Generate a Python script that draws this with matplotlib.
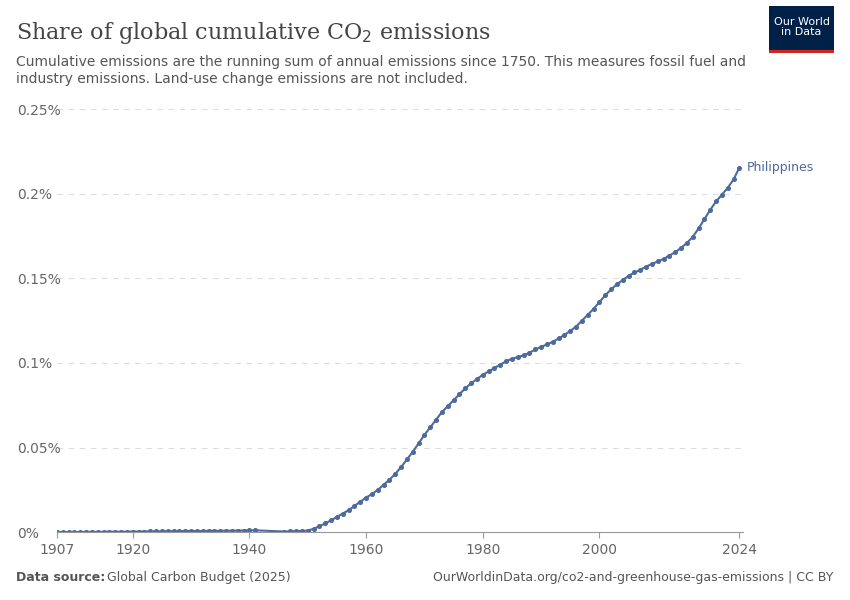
import matplotlib.pyplot as plt
import numpy as np

years_a = list(range(1907, 1942))
share_a = [0.0000, 0.0001, 0.0001, 0.0001, 0.0001, 0.0002, 0.0002, 0.0002, 0.0002, 0.0003,
           0.0003, 0.0003, 0.0003, 0.0004, 0.0004, 0.0004, 0.0005, 0.0005, 0.0005, 0.0006,
           0.0006, 0.0006, 0.0007, 0.0007, 0.0007, 0.0007, 0.0008, 0.0008, 0.0008, 0.0009,
           0.0009, 0.0010, 0.0010, 0.0011, 0.0011]
years_b = list(range(1946, 2025))
share_b = [0.0004, 0.0005, 0.0006, 0.0007, 0.0010, 0.0020, 0.0035, 0.0052, 0.0070, 0.0090,
           0.0110, 0.0130, 0.0155, 0.0180, 0.0205, 0.0225, 0.0250, 0.0280, 0.0310, 0.0345,
           0.0385, 0.0430, 0.0475, 0.0525, 0.0575, 0.0620, 0.0665, 0.0710, 0.0745, 0.0780,
           0.0815, 0.0850, 0.0880, 0.0905, 0.0930, 0.0950, 0.0970, 0.0990, 0.1010, 0.1025,
           0.1035, 0.1045, 0.1060, 0.1080, 0.1095, 0.1110, 0.1125, 0.1145, 0.1165, 0.1190,
           0.1215, 0.1250, 0.1285, 0.1320, 0.1360, 0.1400, 0.1435, 0.1465, 0.1490, 0.1515,
           0.1535, 0.1550, 0.1570, 0.1585, 0.1600, 0.1615, 0.1635, 0.1655, 0.1680, 0.1710,
           0.1745, 0.1795, 0.1850, 0.1905, 0.1955, 0.1995, 0.2035, 0.2085, 0.2155]

years = years_a + years_b
share = share_a + share_b

col = "#4c6a9c"
fig = plt.figure(figsize=(8.5, 6), dpi=100)
ax = fig.add_axes([0.067, 0.113, 0.807, 0.705])
ax.plot(years, share, color=col, lw=1.5, marker="o", ms=2.6)
ax.set_xlim(1907, 2024.6)
ax.set_ylim(0, 0.25)
ax.set_yticks([0, 0.05, 0.1, 0.15, 0.2, 0.25])
ax.set_yticklabels(["0%", "0.05%", "0.1%", "0.15%", "0.2%", "0.25%"])
ax.set_xticks([1907, 1920, 1940, 1960, 1980, 2000, 2024])
for s in ["top", "right", "left"]:
    ax.spines[s].set_visible(False)
ax.spines["bottom"].set_color("#999999")
ax.tick_params(axis="y", length=0, colors="#666666", labelsize=10, pad=29)
ax.tick_params(axis="x", colors="#666666", labelsize=10, length=4, color="#999999")
for lab in ax.get_yticklabels():
    lab.set_horizontalalignment("left")
ax.grid(axis="y", color="#dddddd", ls=(0, (5, 5)), lw=0.8)
ax.text(2025.3, share[-1], "Philippines", color=col, fontsize=9, va="center")

fig.text(0.019, 0.945, "Share of global cumulative CO$_2$ emissions", fontsize=16,
         family="DejaVu Serif", color="#444444", va="center")
fig.text(0.019, 0.883, "Cumulative emissions are the running sum of annual emissions since 1750. This measures fossil fuel and\nindustry emissions. Land-use change emissions are not included.",
         fontsize=10, color="#555555", va="center", linespacing=1.3)
fig.text(0.019, 0.037, "Data source:", fontsize=9, color="#555555", weight="bold", va="center")
fig.text(0.126, 0.037, "Global Carbon Budget (2025)", fontsize=9, color="#555555", va="center")
fig.text(0.981, 0.037, "OurWorldinData.org/co2-and-greenhouse-gas-emissions | CC BY", fontsize=9,
         color="#555555", va="center", ha="right")
logo = fig.add_axes([0.905, 0.912, 0.076, 0.078])
logo.set_facecolor("#002147")
logo.set_xticks([]); logo.set_yticks([])
for s in logo.spines.values():
    s.set_visible(False)
logo.axhline(0.02, color="#ce261e", lw=3)
logo.text(0.5, 0.55, "Our World\nin Data", color="white", fontsize=8, ha="center", va="center",
          transform=logo.transAxes, linespacing=1.1)
fig.savefig("out.png")
